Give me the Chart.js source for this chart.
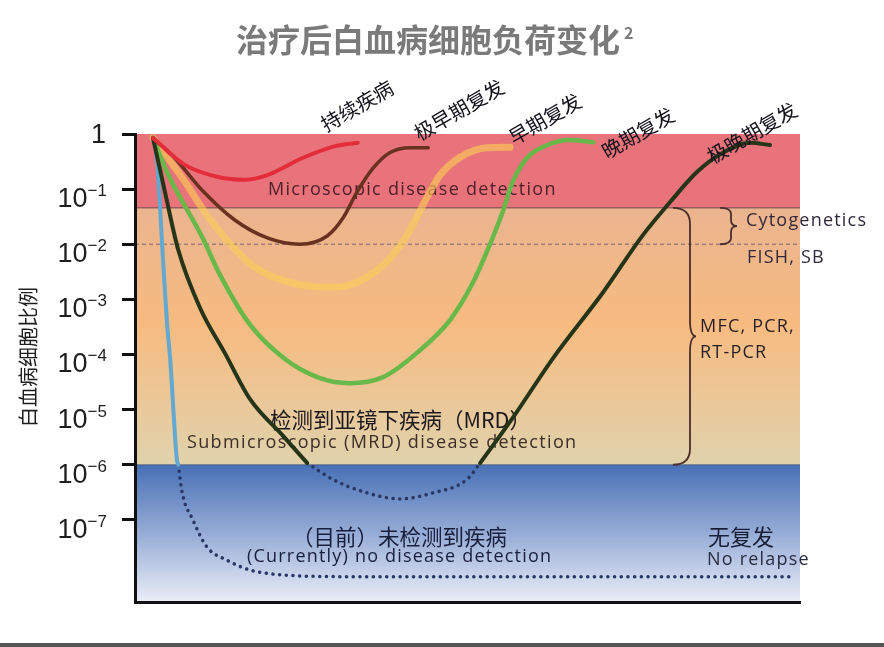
<!DOCTYPE html>
<html>
<head>
<meta charset="utf-8">
<script src="https://cdn.jsdelivr.net/npm/chart.js@4.4.0/dist/chart.umd.min.js"></script>
<style>
  html, body { margin: 0; padding: 0; background: #fff; }
  #wrap { width: 884px; height: 647px; }
</style>
</head>
<body>
<div id="wrap"><canvas id="burden" width="884" height="647"></canvas></div>
<script>
// y values are kept as powers of ten (exponents), x is arbitrary time 0..100
var yTickExps = [0, -1, -2, -3, -4, -5, -6, -7];
var yMinExp = -8.49;
var microscopicExp = -1.34;
var fishExp = -2;
var mrdExp = -6;

var redX = [2.7, 7.5, 12.5, 16.5, 20.0, 25.1, 30.1, 33.5];
var redE = [-0.07, -0.56, -0.78, -0.83, -0.74, -0.44, -0.22, -0.16];

var brownX = [2.7, 6.0, 10.1, 15.0, 20.0, 24.8, 28.9, 31.3, 33.4, 35.8, 38.3, 41.4, 44.1];
var brownE = [-0.07, -0.44, -1.02, -1.56, -1.89, -2.0, -1.85, -1.52, -1.05, -0.62, -0.34, -0.25, -0.25];

var yellowX = [2.7, 6.8, 11.6, 17.6, 23.3, 29.3, 32.3, 37.3, 40.9, 43.3, 45.9, 48.9, 52.9, 56.4];
var yellowE = [-0.07, -0.74, -1.6, -2.38, -2.69, -2.78, -2.74, -2.38, -1.84, -1.29, -0.74, -0.42, -0.25, -0.24];

var greenX = [2.7, 5.0, 10.1, 12.8, 17.3, 22.3, 27.4, 32.3, 37.3, 42.4, 47.4, 50.8, 52.9, 55.3, 56.8, 58.9, 62.0, 65.4, 68.9];
var greenE = [-0.07, -0.74, -1.87, -2.56, -3.46, -4.06, -4.41, -4.52, -4.41, -3.97, -3.37, -2.70, -2.14, -1.41, -0.87, -0.44, -0.20, -0.11, -0.15];

var lateX = [2.7, 4.5, 6.5, 9.8, 13.5, 17.3, 22.3, 25.9];
var lateE = [-0.07, -1.05, -2.10, -3.16, -3.97, -4.81, -5.48, -5.97];
var lateDipX = [25.9, 29.8, 34.9, 39.8, 44.8, 49.9, 51.9];
var lateDipE = [-5.97, -6.27, -6.51, -6.62, -6.51, -6.27, -5.97];
var lateRiseX = [51.9, 56.8, 62.9, 70.4, 76.4, 80.5, 84.5, 88.4, 92.5, 95.5];
var lateRiseE = [-5.97, -5.15, -4.06, -2.87, -1.83, -1.23, -0.69, -0.34, -0.16, -0.20];

var cureX = [2.7, 3.3, 4.2, 4.8, 5.3, 6.3, 6.5];
var cureE = [-0.07, -0.47, -2.25, -3.41, -4.10, -5.91, -6.0];
var cureTailX = [6.5, 7.1, 8.7, 10.8, 13.8, 17.3, 22.3, 32.3, 69.9, 98.9];
var cureTailE = [-6.0, -6.51, -7.0, -7.49, -7.73, -7.91, -8.0, -8.03, -8.03, -8.03];

var curveLabels = ['持续疾病', '极早期复发', '早期复发', '晚期复发', '极晚期复发'];

function pts(xs, es) {
  return xs.map(function(x, i) { return { x: x, y: Math.pow(10, es[i]) }; });
}

function line(data, color, width, dotted) {
  return {
    data: data,
    showLine: true,
    borderColor: color,
    borderWidth: width,
    pointRadius: 0,
    cubicInterpolationMode: 'monotone',
    borderDash: dotted ? [0.1, 6.6] : [],
    borderCapStyle: 'round'
  };
}

function brace(ctx, x0, xv, xt, y1, y2, r) {
  var m = (y1 + y2) / 2;
  ctx.beginPath();
  ctx.moveTo(x0, y1);
  ctx.quadraticCurveTo(xv, y1, xv, y1 + r);
  ctx.lineTo(xv, m - r);
  ctx.quadraticCurveTo(xv, m, xt, m);
  ctx.quadraticCurveTo(xv, m, xv, m + r);
  ctx.lineTo(xv, y2 - r);
  ctx.quadraticCurveTo(xv, y2, x0, y2);
  ctx.stroke();
}

function text(ctx, s, x, y, font, color, spacing) {
  ctx.font = font;
  ctx.fillStyle = color;
  ctx.textAlign = 'left';
  ctx.textBaseline = 'middle';
  ctx.letterSpacing = spacing || '0px';
  ctx.fillText(s, x, y);
  ctx.letterSpacing = '0px';
}

var LAT = '18px "Open Sans"';

var decor = {
  id: 'decor',
  beforeDraw: function(chart) {
    var ctx = chart.ctx, a = chart.chartArea, y = chart.scales.y;
    var yMic = y.getPixelForValue(Math.pow(10, microscopicExp));
    var yMrd = y.getPixelForValue(Math.pow(10, mrdExp));
    var w = a.right - a.left;
    ctx.save();
    ctx.fillStyle = 'rgb(233,115,122)';
    ctx.fillRect(a.left, a.top, w, yMic - a.top);
    var g = ctx.createLinearGradient(0, yMic, 0, yMrd);
    g.addColorStop(0, 'rgb(234,180,143)');
    g.addColorStop(0.45, 'rgb(247,187,128)');
    g.addColorStop(1, 'rgb(224,210,172)');
    ctx.fillStyle = g;
    ctx.fillRect(a.left, yMic, w, yMrd - yMic);
    var g2 = ctx.createLinearGradient(0, yMrd, 0, a.bottom);
    g2.addColorStop(0, 'rgb(72,112,182)');
    g2.addColorStop(0.5, 'rgb(150,172,214)');
    g2.addColorStop(1, 'rgb(234,237,248)');
    ctx.fillStyle = g2;
    ctx.fillRect(a.left, yMrd, w, a.bottom - yMrd);
    // band borders
    ctx.strokeStyle = 'rgba(130,80,80,0.8)';
    ctx.lineWidth = 1.5;
    ctx.beginPath(); ctx.moveTo(a.left, yMic); ctx.lineTo(a.right, yMic); ctx.stroke();
    ctx.strokeStyle = 'rgba(70,80,100,0.5)';
    ctx.beginPath(); ctx.moveTo(a.left, yMrd); ctx.lineTo(a.right, yMrd); ctx.stroke();
    // FISH / cytogenetics limit
    var yFish = y.getPixelForValue(Math.pow(10, fishExp));
    ctx.strokeStyle = 'rgba(150,120,120,0.9)';
    ctx.setLineDash([4, 3]);
    ctx.beginPath(); ctx.moveTo(a.left, yFish); ctx.lineTo(a.right, yFish); ctx.stroke();
    ctx.restore();
  },
  beforeDatasetsDraw: function(chart) {
    var ctx = chart.ctx, y = chart.scales.y;
    var yMic = y.getPixelForValue(Math.pow(10, microscopicExp));
    var yFish = y.getPixelForValue(Math.pow(10, fishExp));
    var yMrd = y.getPixelForValue(Math.pow(10, mrdExp));
    ctx.save();
    text(ctx, 'Microscopic disease detection', 268, 190, LAT, 'rgb(80,32,42)', '1.3px');
    text(ctx, '检测到亚镜下疾病（MRD）', 270, 420, '21.5px "Noto Sans CJK SC"', 'rgb(30,25,30)');
    text(ctx, 'Submicroscopic (MRD) disease detection', 187, 443, LAT, 'rgb(60,45,40)', '1.35px');
    text(ctx, '（目前）未检测到疾病', 292, 537, '21.5px "Noto Sans CJK SC"', 'rgb(25,30,60)');
    text(ctx, '(Currently) no disease detection', 247, 557, LAT, 'rgb(25,30,60)', '1.2px');
    text(ctx, '无复发', 708, 537, '22px "Noto Sans CJK SC"', 'rgb(25,30,55)');
    text(ctx, 'No relapse', 707, 560, LAT, 'rgb(40,45,65)', '1.2px');
    text(ctx, 'Cytogenetics', 746, 221, LAT, 'rgb(50,40,60)', '1.2px');
    text(ctx, 'FISH, SB', 747, 258, LAT, 'rgb(50,40,60)', '1.2px');
    text(ctx, 'MFC, PCR,', 700, 327, LAT, 'rgb(40,30,40)', '1.2px');
    text(ctx, 'RT-PCR', 700, 353, LAT, 'rgb(40,30,40)', '1.2px');
    ctx.strokeStyle = 'rgb(75,45,45)';
    ctx.lineWidth = 1.8;
    brace(ctx, 720, 731, 737, yMic, yFish, 6);
    brace(ctx, 673, 690, 696, yMic, yMrd, 16);
    ctx.restore();
  },
  afterDraw: function(chart) {
    var ctx = chart.ctx, y = chart.scales.y;
    ctx.save();
    // title
    ctx.font = 'bold 32px "Noto Sans CJK SC"';
    ctx.fillStyle = 'rgb(122,122,122)';
    ctx.textAlign = 'center';
    ctx.textBaseline = 'middle';
    ctx.fillText('治疗后白血病细胞负荷变化', 428, 40);
    ctx.font = 'bold 16px "Noto Sans CJK SC"';
    ctx.textAlign = 'left';
    ctx.fillText('2', 624, 33);
    // y title
    ctx.save();
    ctx.translate(28, 357);
    ctx.rotate(-Math.PI / 2);
    ctx.font = '20px "Noto Sans CJK SC"';
    ctx.fillStyle = 'rgb(30,30,30)';
    ctx.textAlign = 'center';
    ctx.fillText('白血病细胞比例', 0, 0);
    ctx.restore();
    // tick labels
    ctx.fillStyle = 'rgb(30,30,30)';
    ctx.textBaseline = 'alphabetic';
    ctx.textAlign = 'right';
    y.ticks.forEach(function(t, i) {
      var py = y.getPixelForTick(i);
      var e = Math.round(Math.log10(t.value));
      if (e === 0) {
        ctx.font = '27px "Liberation Sans"';
        ctx.fillText('1', 106, py + 9);
      } else {
        var sup = '\u2212' + (-e);
        ctx.font = '17px "Liberation Sans"';
        var sw = ctx.measureText(sup).width;
        ctx.fillText(sup, 107, py + 7);
        ctx.font = '27px "Liberation Sans"';
        ctx.fillText('10', 107 - sw, py + 18);
      }
    });
    // curve labels
    var pos = [[357, 106], [459, 110], [545, 119], [638, 133], [752, 133]];
    ctx.font = '20px "Noto Sans CJK SC"';
    ctx.fillStyle = 'rgb(20,18,28)';
    ctx.textAlign = 'center';
    ctx.textBaseline = 'middle';
    curveLabels.forEach(function(s, i) {
      ctx.save();
      ctx.translate(pos[i][0], pos[i][1]);
      ctx.rotate(-30 * Math.PI / 180);
      ctx.fillText(s, 0, 0);
      ctx.restore();
    });
    ctx.fillStyle = 'rgb(85,85,85)';
    ctx.fillRect(0, 643, 884, 4);
    ctx.restore();
  }
};

new Chart(document.getElementById('burden'), {
  type: 'scatter',
  data: {
    datasets: [
      line(pts(redX, redE), 'rgb(228,45,58)', 4),
      line(pts(brownX, brownE), 'rgb(105,50,32)', 3.5),
      line(pts(lateX, lateE), 'rgb(38,52,24)', 4),
      line(pts(lateRiseX, lateRiseE), 'rgb(38,52,24)', 4),
      line(pts(lateDipX, lateDipE), 'rgb(40,55,100)', 3.5, true),
      line(pts(greenX, greenE), 'rgb(104,184,74)', 4.5),
      line(pts(yellowX, yellowE), 'rgba(250,205,85,0.62)', 7),
      line(pts(cureX, cureE), 'rgb(98,168,208)', 4),
      line(pts(cureTailX, cureTailE), 'rgb(40,55,100)', 3.5, true)
    ]
  },
  options: {
    responsive: false,
    animation: false,
    layout: { padding: { top: 134, right: 84, left: 0, bottom: 0 } },
    plugins: { legend: { display: false }, tooltip: { enabled: false } },
    scales: {
      x: {
        type: 'linear',
        min: 0,
        max: 100,
        ticks: { display: false },
        grid: { display: false },
        border: { display: true, color: '#111', width: 3 },
        afterFit: function(s) { s.height = 45; }
      },
      y: {
        type: 'logarithmic',
        min: Math.pow(10, yMinExp),
        max: 1,
        ticks: { display: false },
        grid: { drawOnChartArea: false, drawTicks: true, tickLength: 13, tickWidth: 3, tickColor: '#111', color: '#111' },
        border: { display: true, color: '#111', width: 3 },
        afterBuildTicks: function(s) {
          s.ticks = yTickExps.map(function(e) { return { value: Math.pow(10, e) }; });
        },
        afterFit: function(s) { s.width = 135; }
      }
    }
  },
  plugins: [decor]
});
</script>
</body>
</html>
